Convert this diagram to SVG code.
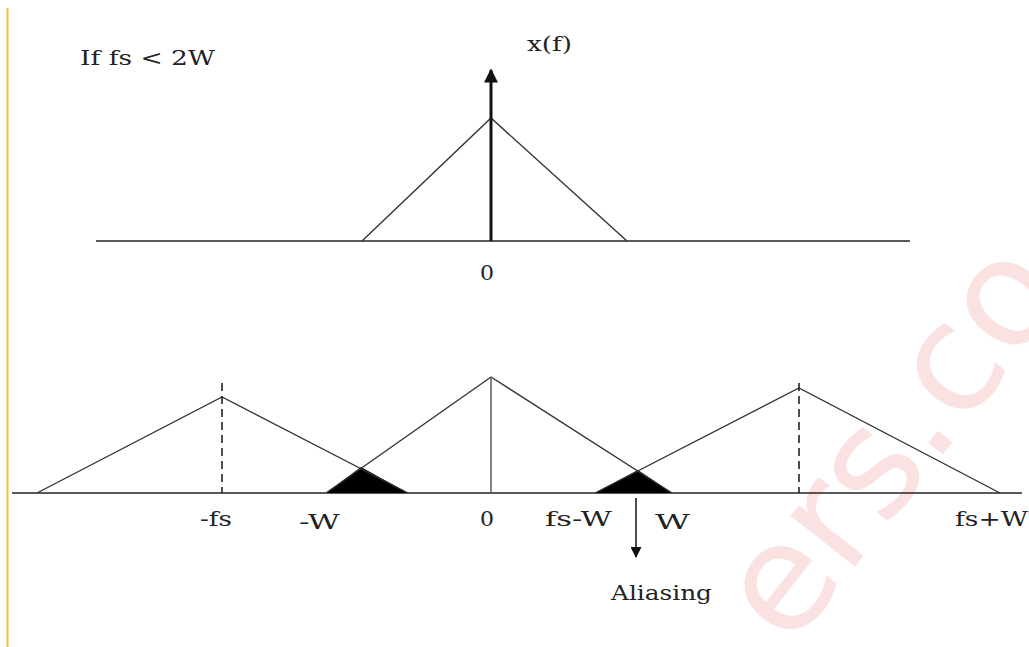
<svg xmlns="http://www.w3.org/2000/svg" width="1029" height="647" viewBox="0 0 1029 647">
<defs>
<style>
.t{font-family:"DejaVu Serif","Liberation Serif",serif;font-size:21px;fill:#222}
.ax{stroke:#222;stroke-width:1.6;fill:none}
.ln{stroke:#333;stroke-width:1.4;fill:none}
.ds{stroke:#222;stroke-width:1.6;stroke-dasharray:8,5;fill:none}
.wm{font-family:"DejaVu Sans","Liberation Sans",sans-serif;font-size:150px;fill:#f8d2d2;fill-opacity:0.65}
</style>
<marker id="ah" viewBox="0 0 10 10" refX="9" refY="5" markerWidth="12" markerHeight="11" orient="auto" markerUnits="userSpaceOnUse">
<path d="M0,0 L10,5 L0,10 z" fill="#111"/>
</marker>
<marker id="ahb" viewBox="0 0 10 10" refX="9" refY="5" markerWidth="16" markerHeight="14" orient="auto" markerUnits="userSpaceOnUse">
<path d="M0,0 L10,5 L0,10 z" fill="#111"/>
</marker>
</defs>
<rect width="1029" height="647" fill="#ffffff"/>
<g id="watermark">
<text class="wm" transform="translate(790,650) rotate(-52)">ers.co</text>
</g>
<line x1="7.5" y1="8" x2="7.5" y2="647" stroke="#f2c232" stroke-width="2"/>
<g id="title"><text class="t" x="80" y="65" textLength="135" lengthAdjust="spacingAndGlyphs">If fs &lt; 2W</text></g>
<g id="top-plot">
<line class="ax" x1="96" y1="241" x2="910" y2="241"/>
<polyline class="ln" points="362,241 491,118 627,241"/>
<text class="t" x="527" y="51" textLength="45" lengthAdjust="spacingAndGlyphs">x(f)</text>
<text class="t" x="480" y="280" textLength="14" lengthAdjust="spacingAndGlyphs">0</text>
</g>
<g id="bottom-plot">
<line class="ax" x1="12" y1="493" x2="1022" y2="493"/>
<polygon points="326,493 361,467 408,493" fill="#000"/>
<polygon points="595,493 638,470 672,493" fill="#000"/>
<polyline class="ln" points="37,493 222,397 408,493"/>
<polyline class="ln" points="326,493 491,377 672,493"/>
<polyline class="ln" points="595,493 799,388 1000,493"/>
<line x1="491" y1="377" x2="491" y2="493" stroke="#666" stroke-width="1.6"/>
<line class="ds" x1="222" y1="383" x2="222" y2="493"/>
<line class="ds" x1="799" y1="383" x2="799" y2="493"/>
<text class="t" x="200" y="526" textLength="32" lengthAdjust="spacingAndGlyphs">-fs</text>
<text class="t" x="299" y="529" textLength="41" lengthAdjust="spacingAndGlyphs">-W</text>
<text class="t" x="480" y="526" textLength="14" lengthAdjust="spacingAndGlyphs">0</text>
<text class="t" x="545" y="526" textLength="67" lengthAdjust="spacingAndGlyphs">fs-W</text>
<text class="t" x="655" y="529" textLength="35" lengthAdjust="spacingAndGlyphs">W</text>
<text class="t" x="955" y="526" textLength="73" lengthAdjust="spacingAndGlyphs">fs+W</text>
<text class="t" x="611" y="600" textLength="101" lengthAdjust="spacingAndGlyphs">Aliasing</text>
</g>
<g id="connectors">
<line x1="491" y1="241" x2="491" y2="70" stroke="#111" stroke-width="3" marker-end="url(#ahb)"/>
<line x1="636" y1="498" x2="636" y2="557" stroke="#111" stroke-width="1.5" marker-end="url(#ah)"/>
</g>
</svg>
